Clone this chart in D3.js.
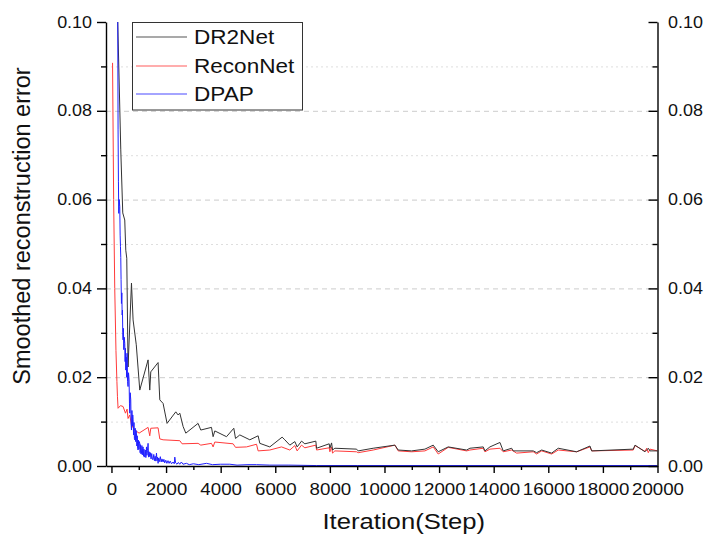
<!DOCTYPE html>
<html>
<head>
<meta charset="utf-8">
<script src="https://cdn.jsdelivr.net/npm/d3@7"></script>
<style>
  html, body { margin: 0; padding: 0; background: #fff; }
  svg { display: block; }
</style>
</head>
<body>
<svg id="chart" width="705" height="536"></svg>
<script>
// ---------------- DATA ----------------
const seriesNames = ["DR2Net", "ReconNet", "DPAP"];
const xTickValues = [0, 2000, 4000, 6000, 8000, 10000, 12000, 14000, 16000, 18000, 20000];
const yTickValues = [0.00, 0.02, 0.04, 0.06, 0.08, 0.10];
const xLabel = "Iteration(Step)";
const yLabel = "Smoothed reconstruction error";

const dr2net = [
  [230,0.1000],[341,0.0712],[414,0.0570],[487,0.0554],[524,0.0486],[561,0.0468],[608,0.0223],
  [733,0.0412],[792,0.0329],[909,0.0273],[1037,0.0171],[1341,0.0239],[1403,0.0171],[1440,0.0212],
  [1708,0.0233],[1770,0.0149],[1891,0.0141],[2037,0.0096],[2356,0.0122],[2440,0.0115],[2503,0.0119],
  [2624,0.0089],[2723,0.0074],[3173,0.0096],[3272,0.0081],[3664,0.0087],[3723,0.0066],[3785,0.0079],
  [4214,0.0066],[4481,0.0085],[4544,0.0062],[4701,0.0070],[5068,0.0059],[5372,0.0068],[5434,0.0051],
  [5800,0.0043],[6251,0.0065],[6350,0.0059],[6533,0.0047],[6717,0.0055],[6801,0.0043],[6962,0.0056],
  [7083,0.0050],[7486,0.0056],[7512,0.0040],[7974,0.0050],[8000,0.0040],[8062,0.0052],[8098,0.0036],
  [8183,0.0040],[8978,0.0038],[9036,0.0034],[9586,0.0040],[10381,0.0047],[10502,0.0036],[10993,0.0034],
  [11481,0.0038],[11785,0.0047],[11968,0.0032],[12334,0.0043],[13009,0.0036],[13129,0.0040],[13617,0.0043],
  [13679,0.0034],[13862,0.0043],[14229,0.0053],[14349,0.0034],[14657,0.0040],[14716,0.0034],[15449,0.0034],
  [15573,0.0030],[15757,0.0036],[16123,0.0029],[16365,0.0040],[17039,0.0032],[17527,0.0045],[17589,0.0034],
  [19113,0.0038],[19176,0.0047],[19542,0.0032],[19663,0.0040],[19725,0.0034],[20000,0.0034]
];

const reconnet = [
  [40,0.0908],[80,0.0600],[120,0.0400],[165,0.0260],[200,0.0190],[220,0.0156],[242,0.0130],
  [330,0.0136],[425,0.0134],[513,0.0119],[572,0.0128],[608,0.0107],[671,0.0115],[733,0.0092],
  [854,0.0081],[1011,0.0074],[1341,0.0087],[1403,0.0068],[1440,0.0085],[1708,0.0086],[1770,0.0061],
  [1891,0.0059],[2503,0.0057],[2587,0.0050],[3173,0.0051],[3272,0.0047],[3664,0.0051],[3723,0.0043],
  [3785,0.0054],[4456,0.0050],[4544,0.0042],[4947,0.0043],[5313,0.0049],[5372,0.0034],[5800,0.0036],
  [6229,0.0043],[6533,0.0036],[6717,0.0046],[6801,0.0034],[6962,0.0047],[7083,0.0041],[7486,0.0047],
  [7512,0.0036],[7974,0.0041],[8000,0.0032],[8062,0.0043],[8098,0.0029],[8183,0.0034],[8978,0.0032],
  [9036,0.0030],[9586,0.0036],[10381,0.0047],[10502,0.0034],[10993,0.0032],[11481,0.0034],[11785,0.0043],
  [11968,0.0027],[12334,0.0042],[13009,0.0034],[13129,0.0036],[13617,0.0040],[13679,0.0032],[13862,0.0038],
  [14229,0.0040],[14349,0.0032],[14657,0.0036],[14840,0.0029],[15449,0.0032],[15573,0.0027],[15757,0.0034],
  [16123,0.0027],[16365,0.0036],[17039,0.0032],[17527,0.0043],[17589,0.0034],[19113,0.0036],[19176,0.0046],
  [19542,0.0033],[19603,0.0040],[19663,0.0030],[19725,0.0038],[20000,0.0034]
];

const dpap = [
  [230,0.1000],[242,0.0757],[255,0.0640],[267,0.0569],[285,0.0600],[304,0.0584],[318,0.0520],
  [330,0.0494],[341,0.0470],[352,0.0420],[366,0.0366],[380,0.0390],[392,0.0340],[403,0.0351],
  [414,0.0300],[425,0.0284],[438,0.0310],[451,0.0262],[468,0.0290],[487,0.0276],[500,0.0235],
  [512,0.0265],[524,0.0216],[540,0.0245],[556,0.0200],[572,0.0254],[590,0.0190],[608,0.0179],
  [625,0.0210],[645,0.0194],[660,0.0140],[671,0.0119],[688,0.0165],[707,0.0149],[720,0.0095],
  [733,0.0081],[750,0.0125],[765,0.0090],[780,0.0115],[792,0.0104],[810,0.0070],[825,0.0098],
  [840,0.0062],[854,0.0059],[870,0.0085],[885,0.0055],[900,0.0080],[916,0.0074],[930,0.0045],
  [945,0.0068],[960,0.0040],[975,0.0036],[990,0.0058],[1005,0.0038],[1020,0.0055],[1037,0.0051],
  [1050,0.0030],[1065,0.0048],[1080,0.0027],[1099,0.0029],[1115,0.0046],[1130,0.0025],[1145,0.0040],
  [1158,0.0043],[1175,0.0022],[1190,0.0038],[1205,0.0020],[1220,0.0021],[1240,0.0036],[1260,0.0019],
  [1283,0.0043],[1300,0.0024],[1320,0.0035],[1341,0.0051],[1360,0.0020],[1380,0.0032],[1403,0.0021],
  [1425,0.0030],[1450,0.0016],[1475,0.0028],[1500,0.0015],[1524,0.0014],[1550,0.0026],[1575,0.0012],
  [1600,0.0022],[1625,0.0011],[1649,0.0029],[1670,0.0012],[1690,0.0020],[1708,0.0006],[1730,0.0018],
  [1760,0.0010],[1790,0.0021],[1820,0.0009],[1850,0.0016],[1891,0.0009],[1920,0.0015],[1950,0.0007],
  [1990,0.0013],[2030,0.0006],[2070,0.0012],[2110,0.0006],[2150,0.0011],[2200,0.0005],[2257,0.0009],
  [2300,0.0005],[2320,0.0020],[2350,0.0007],[2400,0.0004],[2450,0.0008],[2500,0.0004],[2560,0.0009],
  [2620,0.0004],[2748,0.0006],[2850,0.0003],[3000,0.0005],[3200,0.0003],[3481,0.0006],[3700,0.0003],
  [4000,0.0004],[4335,0.0004],[4600,0.0002],[5000,0.0003],[5313,0.0003],[5800,0.0002],[6500,0.0002],
  [7500,0.0001],[9000,0.0001],[12000,0.0001],[16000,0.0001],[20000,0.0001]
];

const seriesData = [dr2net, reconnet, dpap];
const seriesColors = ["#333333", "#ff3a3a", "#2020ff"];
const legendColors = ["#555555", "#ff5c5c", "#4a4aff"];

// ---------------- LAYOUT ----------------
const svg = d3.select("#chart");
const L = 106, R = 657.5, T = 22, B = 466;
const FONT = "'Liberation Sans', Arial, sans-serif";

const x = d3.scaleLinear().domain([-200, 20000]).range([L, R]);
const y = d3.scaleLinear().domain([0, 0.1]).range([B, T]);

function stretch(sel, f) {
  sel.each(function() {
    const w = this.getComputedTextLength();
    if (w > 0) {
      this.setAttribute("textLength", (w * f).toFixed(2));
      this.setAttribute("lengthAdjust", "spacingAndGlyphs");
    }
  });
}

// grid lines
const minorY = d3.range(1, 10, 2).map(d => d / 100);
const majorYGrid = [0.02, 0.04, 0.06, 0.08];
svg.append("g").selectAll("line").data(minorY).join("line")
  .attr("x1", L).attr("x2", R)
  .attr("y1", d => y(d) + 0.5).attr("y2", d => y(d) + 0.5)
  .attr("stroke", "#dedede").attr("stroke-width", 1).attr("stroke-dasharray", "2,3");
svg.append("g").selectAll("line").data(majorYGrid).join("line")
  .attr("x1", L).attr("x2", R)
  .attr("y1", d => y(d) + 0.5).attr("y2", d => y(d) + 0.5)
  .attr("stroke", "#cccccc").attr("stroke-width", 1).attr("stroke-dasharray", "5,4");

// clip
svg.append("defs").append("clipPath").attr("id", "clip")
  .append("rect").attr("x", L).attr("y", T - 1).attr("width", R - L).attr("height", B - T + 1);

const line = d3.line().x(d => x(d[0])).y(d => y(d[1]));
const linesG = svg.append("g").attr("clip-path", "url(#clip)");
[1, 0, 2].forEach(i => {
  linesG.append("path")
    .attr("d", line(seriesData[i]))
    .attr("fill", "none")
    .attr("stroke", seriesColors[i])
    .attr("stroke-width", 1)
    .attr("stroke-linejoin", "round");
});

// axes
function styleAxis(g, fs) {
  g.selectAll("path.domain").attr("stroke", "#000").attr("stroke-width", 1.4);
  g.selectAll(".tick line").attr("stroke", "#000").attr("stroke-width", 1.4);
  g.selectAll("text").attr("font-family", FONT).attr("font-size", fs).attr("fill", "#111");
}

// bottom
const xAxisG = svg.append("g").attr("transform", `translate(0,${B})`)
  .call(d3.axisBottom(x).tickValues(xTickValues).tickSize(7).tickSizeOuter(0).tickPadding(9.5).tickFormat(d3.format("d")));
styleAxis(xAxisG, 17);
stretch(xAxisG.selectAll("text"), 1.1);
const xMinor = svg.append("g").attr("transform", `translate(0,${B})`)
  .call(d3.axisBottom(x).tickValues(d3.range(1000, 20000, 2000)).tickSize(4).tickFormat(""));
xMinor.select("path.domain").remove();
styleAxis(xMinor, 10);

// left
const yAxisL = svg.append("g").attr("transform", `translate(${L},0)`)
  .call(d3.axisLeft(y).tickValues(yTickValues).tickSize(9).tickSizeOuter(0).tickPadding(5).tickFormat(d3.format(".2f")));
styleAxis(yAxisL, 16);
stretch(yAxisL.selectAll("text"), 1.12);
const yMinorL = svg.append("g").attr("transform", `translate(${L},0)`)
  .call(d3.axisLeft(y).tickValues(minorY).tickSize(5).tickFormat(""));
yMinorL.select("path.domain").remove();
styleAxis(yMinorL, 10);

// right
const yAxisR = svg.append("g").attr("transform", `translate(${R},0)`)
  .call(d3.axisRight(y).tickValues(yTickValues).tickSize(-9).tickSizeOuter(0).tickPadding(10.5).tickFormat(d3.format(".2f")));
styleAxis(yAxisR, 16);
stretch(yAxisR.selectAll("text"), 1.12);
const yMinorR = svg.append("g").attr("transform", `translate(${R},0)`)
  .call(d3.axisRight(y).tickValues(minorY).tickSize(-5).tickFormat(""));
yMinorR.select("path.domain").remove();
styleAxis(yMinorR, 10);

// titles
const xt = svg.append("text")
  .attr("x", (L + R) / 2 + 22).attr("y", 529)
  .attr("text-anchor", "middle")
  .attr("font-family", FONT).attr("font-size", 22.5).attr("fill", "#111")
  .text(xLabel);
stretch(xt, 1.14);

svg.append("text")
  .attr("transform", `translate(29.5,226) rotate(-90)`)
  .attr("text-anchor", "middle")
  .attr("font-family", FONT).attr("font-size", 23.5).attr("fill", "#111")
  .text(yLabel);

// legend
const lg = svg.append("g");
lg.append("rect").attr("x", 132.5).attr("y", 22.5).attr("width", 170).attr("height", 87.5)
  .attr("fill", "#fff").attr("stroke", "#333").attr("stroke-width", 1);
const legendY = [37, 66, 94];
seriesNames.forEach((name, i) => {
  lg.append("line").attr("x1", 136).attr("x2", 187)
    .attr("y1", legendY[i]).attr("y2", legendY[i])
    .attr("stroke", legendColors[i]).attr("stroke-width", 1.2);
  const t = lg.append("text").attr("x", 194).attr("y", legendY[i] + 7.4)
    .attr("font-family", FONT).attr("font-size", 20.5).attr("fill", "#111")
    .text(name);
  stretch(t, 1.1);
});
</script>
</body>
</html>
